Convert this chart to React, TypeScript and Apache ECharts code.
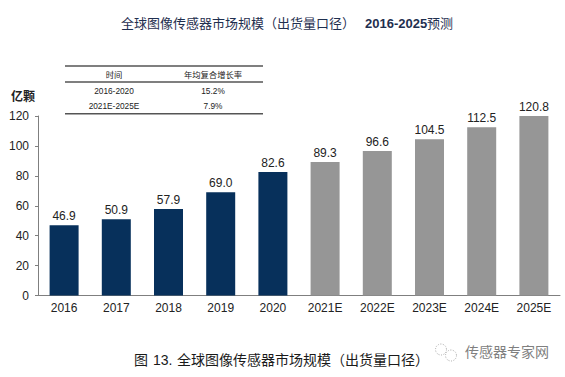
import React, { useEffect, useRef } from "react";
import * as echarts from "echarts";

const categories = ["2016", "2017", "2018", "2019", "2020", "2021E", "2022E", "2023E", "2024E", "2025E"];
const values = [46.9, 50.9, 57.9, 69.0, 82.6, 89.3, 96.6, 104.5, 112.5, 120.8];
const actualCount = 5;
const yTicks = { min: 0, max: 120, interval: 20 };
const tableHeader = ["时间", "年均复合增长率"];
const tableRows = [
  ["2016-2020", "15.2%"],
  ["2021E-2025E", "7.9%"],
];
const titleParts = ["全球图像传感器市场规模（出货量口径）", "2016-2025", "预测"];
const captionParts = ["图", "13.", "全球图像传感器市场规模（出货量口径）"];
const watermark = "传感器专家网";
const unit = "亿颗";

const SANS = '"Liberation Sans", "Noto Sans CJK SC", sans-serif';

export default function App() {
  const ref = useRef<HTMLDivElement>(null);
  useEffect(() => {
    const chart = echarts.init(ref.current!, undefined, { renderer: "svg" });
    const colA = 114;
    const colB = 213;
    const tableText = (text: string, x: number, y: number, weight = "normal", fill = "#222222") => ({
      type: "text" as const,
      style: { text, x, y, align: "center", verticalAlign: "middle", font: `${weight} 8.3px ${SANS}`, fill },
    });
    const rule = (y: number) => ({
      type: "line" as const,
      shape: { x1: 65, y1: y, x2: 263, y2: y },
      style: { stroke: "#555555", lineWidth: 1.4 },
    });
    const plain = (text: string, x: number, y: number, font: string, fill: string) => ({
      type: "text" as const,
      style: { text, x, y, verticalAlign: "middle", font, fill },
    });
    chart.setOption({
      animation: false,
      textStyle: { fontFamily: SANS },
      grid: { left: 38, right: 5, top: 116, bottom: 81.5, containLabel: false },
      xAxis: {
        type: "category",
        data: categories,
        axisLine: { lineStyle: { color: "#7f7f7f", width: 1 } },
        axisTick: { show: false },
        axisLabel: { color: "#222222", fontSize: 12, margin: 6, fontFamily: SANS },
      },
      yAxis: {
        type: "value",
        ...yTicks,
        axisLine: { show: true, lineStyle: { color: "#7f7f7f", width: 1 } },
        axisTick: { show: true, length: 3, inside: false, lineStyle: { color: "#7f7f7f" } },
        axisLabel: { color: "#222222", fontSize: 12, margin: 9, fontFamily: SANS },
        splitLine: { show: false },
      },
      series: [
        {
          type: "bar",
          barWidth: 29,
          data: values.map((v, i) => ({
            value: v,
            itemStyle: { color: i < actualCount ? "#07305b" : "#969696" },
          })),
          label: {
            show: true,
            position: "top",
            distance: 3,
            color: "#222222",
            fontSize: 12,
            fontFamily: SANS,
            formatter: (p: any) => p.value.toFixed(1),
          },
        },
      ],
      graphic: [
        plain(titleParts[0], 121, 23, `normal 13px ${SANS}`, "#1f2f4f"),
        plain(titleParts[1], 365, 23, `bold 13px ${SANS}`, "#1f2f4f"),
        plain(titleParts[2], 427, 23, `normal 13px ${SANS}`, "#1f2f4f"),
        rule(66),
        rule(82),
        rule(113.7),
        tableText(tableHeader[0], colA, 75),
        tableText(tableHeader[1], colB, 75),
        tableText(tableRows[0][0], colA, 90.5),
        tableText(tableRows[0][1], colB, 90.5),
        tableText(tableRows[1][0], colA, 105.5),
        tableText(tableRows[1][1], colB, 105.5),
        plain(unit, 11, 96.5, `bold 12px ${SANS}`, "#222222"),
        plain(captionParts[0], 134, 360, `normal 14px ${SANS}`, "#1a1a1a"),
        plain(captionParts[1], 153, 360, `normal 14px ${SANS}`, "#1a1a1a"),
        plain(captionParts[2], 177, 360, `normal 14px ${SANS}`, "#1a1a1a"),
        plain(watermark, 465, 352, `normal 14px ${SANS}`, "#808080"),
        {
          type: "circle",
          shape: { cx: 441, cy: 349.5, r: 5.5 },
          style: { fill: "none", stroke: "#a8a8a8", lineWidth: 1, lineDash: [1, 1.5] },
        },
        {
          type: "circle",
          shape: { cx: 451, cy: 355.5, r: 5.5 },
          style: { fill: "none", stroke: "#a8a8a8", lineWidth: 1, lineDash: [1, 1.5] },
        },
      ],
    });
    return () => chart.dispose();
  }, []);
  return <div ref={ref} style={{ position: "fixed", left: 0, top: 0, width: 565, height: 377, background: "#fff" }} />;
}
